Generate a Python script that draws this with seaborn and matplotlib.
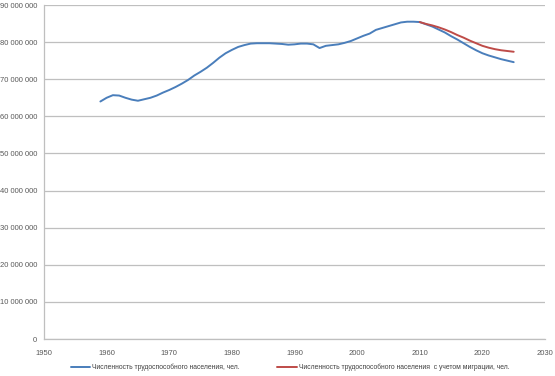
import matplotlib
matplotlib.use("Agg")
import matplotlib.pyplot as plt
import matplotlib.ticker as mticker
from matplotlib.lines import Line2D
import seaborn as sns
import pandas as pd

years_blue = list(range(1959, 2026))
pop_blue_mln = [64.0, 65.0, 65.7, 65.6, 65.0, 64.5, 64.2, 64.6, 65.0, 65.6,
                66.4, 67.1, 67.9, 68.8, 69.8, 71.0, 72.0, 73.1, 74.4, 75.8,
                77.0, 77.9, 78.7, 79.2, 79.6, 79.7, 79.7, 79.7, 79.6, 79.5,
                79.3, 79.4, 79.6, 79.6, 79.4, 78.4, 79.0, 79.2, 79.4, 79.8,
                80.3, 81.0, 81.7, 82.3, 83.3, 83.8, 84.3, 84.8, 85.3, 85.5,
                85.5, 85.4, 84.8, 84.2, 83.4, 82.6, 81.6, 80.7, 79.7, 78.7,
                77.8, 77.0, 76.4, 75.9, 75.4, 75.0, 74.6]
years_red = list(range(2010, 2026))
pop_red_mln = [85.4, 84.9, 84.5, 84.0, 83.4, 82.7, 81.9, 81.2, 80.4, 79.7,
               79.0, 78.5, 78.1, 77.8, 77.6, 77.4]

label_blue = "Численность трудоспособного населения, чел."
label_red = "Численность трудоспособного населения  с учетом миграции, чел."
x_ticks = [1950, 1960, 1970, 1980, 1990, 2000, 2010, 2020, 2030]
y_ticks = [0, 10e6, 20e6, 30e6, 40e6, 50e6, 60e6, 70e6, 80e6, 90e6]

df = pd.concat([
    pd.DataFrame({"year": years_blue, "value": [v * 1e6 for v in pop_blue_mln], "series": label_blue}),
    pd.DataFrame({"year": years_red, "value": [v * 1e6 for v in pop_red_mln], "series": label_red}),
])

sns.set_style("white")
plt.rcParams["font.family"] = ["Liberation Sans", "DejaVu Sans"]

fig, ax = plt.subplots(figsize=(5.55, 3.76), dpi=100)
fig.subplots_adjust(left=0.0793, right=0.982, top=0.9867, bottom=0.0984)

sns.lineplot(data=df, x="year", y="value", hue="series",
             palette={label_blue: "#4A7EBB", label_red: "#BE4B48"},
             linewidth=1.4, ax=ax, legend=False)

ax.set_xlim(1950, 2030)
ax.set_ylim(0, 90e6)
ax.set_xticks(x_ticks)
ax.set_yticks(y_ticks)
ax.yaxis.set_major_formatter(mticker.FuncFormatter(lambda v, p: f"{int(v):,}".replace(",", " ")))
ax.set_xlabel("")
ax.set_ylabel("")
ax.grid(axis="y", color="#BFBFBF", linewidth=0.9)
ax.set_axisbelow(True)
for s in ["top", "right"]:
    ax.spines[s].set_visible(False)
for s in ["left", "bottom"]:
    ax.spines[s].set_color("#BFBFBF")
    ax.spines[s].set_linewidth(0.9)
ax.tick_params(axis="both", labelsize=5.5, colors="#BFBFBF", labelcolor="#595959",
               length=3, width=0.9, direction="out")
ax.tick_params(axis="x", pad=5)
ax.tick_params(axis="y", pad=2)

handles = [Line2D([], [], color="#4A7EBB", lw=1.4), Line2D([], [], color="#BE4B48", lw=1.4)]
fig.legend(handles, [label_blue, label_red], loc="center", bbox_to_anchor=(0.523, 0.022),
           ncol=2, frameon=False, fontsize=4.9, handlelength=2.9, handletextpad=0.3,
           columnspacing=5.5, labelcolor="#404040", borderpad=0)

fig.savefig("out.png", dpi=100)
